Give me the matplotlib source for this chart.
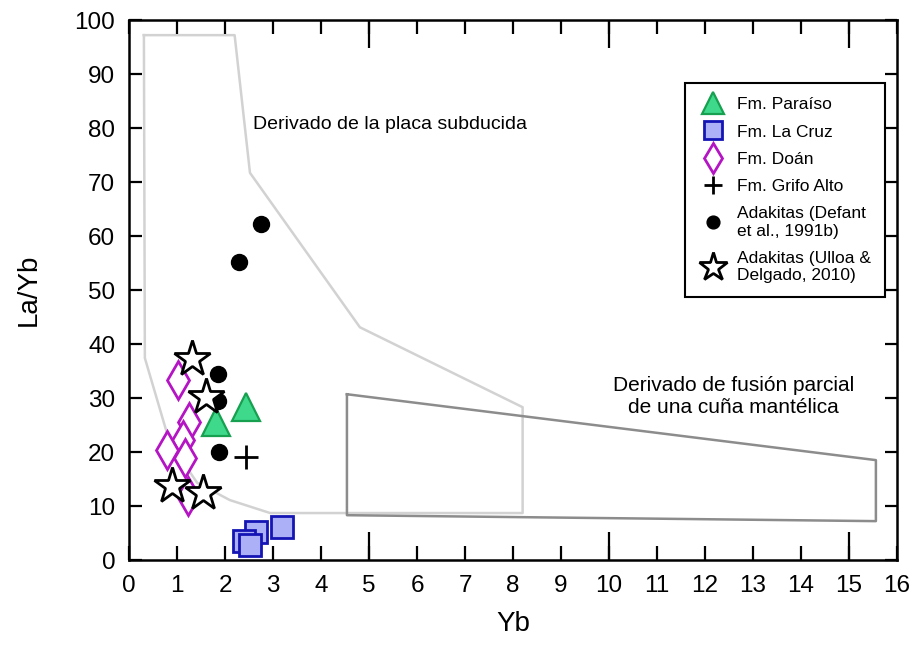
import matplotlib
matplotlib.use("Agg")
import matplotlib.pyplot as plt
from matplotlib.ticker import FixedLocator, MultipleLocator

plt.rcParams['font.family'] = ['Liberation Sans', 'DejaVu Sans']

# Field polygons
subd_x = [0.31, 2.2, 2.52, 4.81, 8.2, 8.2, 2.94, 2.1, 1.42, 0.85, 0.33, 0.31]
subd_y = [97.2, 97.2, 71.7, 43.1, 28.3, 8.7, 8.7, 11.1, 14.3, 21.7, 37.4, 97.2]
mantle_x = [4.54, 4.54, 15.56, 15.56, 4.54]
mantle_y = [30.7, 8.3, 7.2, 18.5, 30.7]

# Data series
paraiso_x = [2.44, 1.81]
paraiso_y = [28.3, 25.5]
lacruz_x = [3.18, 2.65, 2.40, 2.52]
lacruz_y = [6.1, 5.2, 3.5, 2.8]
doan_x = [1.02, 1.25, 1.13, 0.79, 1.17, 1.23]
doan_y = [33.3, 25.6, 22.2, 20.4, 18.9, 11.8]
grifo_x = [2.44]
grifo_y = [19.1]
defant_x = [2.75, 2.29, 1.85, 1.85, 1.88]
defant_y = [62.2, 55.2, 34.4, 29.4, 20.0]
ulloa_x = [1.31, 1.60, 0.90, 1.54]
ulloa_y = [37.3, 30.2, 13.7, 12.4]

labels = ["Fm. Paraíso", "Fm. La Cruz", "Fm. Doán", "Fm. Grifo Alto",
          "Adakitas (Defant\net al., 1991b)", "Adakitas (Ulloa &\nDelgado, 2010)"]

fig = plt.figure(figsize=(9.17, 6.46), dpi=100)
ax = fig.add_axes([0.1407, 0.1331, 0.8375, 0.8359])

ax.plot(subd_x, subd_y, color='#d2d2d2', lw=1.8, zorder=1)
ax.plot(mantle_x, mantle_y, color='#8c8c8c', lw=1.8, zorder=1)

ax.plot(paraiso_x, paraiso_y, ls='none', marker='^', ms=20, mfc='#3fd98c',
        mec='#16a050', mew=1.6, label=labels[0], zorder=3)
ax.plot(lacruz_x, lacruz_y, ls='none', marker='s', ms=16, mfc='#acb0f6',
        mec='#1515b5', mew=2.0, label=labels[1], zorder=3)
ax.plot(doan_x, doan_y, ls='none', marker='d', ms=19, mfc='white',
        mec='#b414c3', mew=2.0, label=labels[2], zorder=3)
ax.plot(grifo_x, grifo_y, ls='none', marker='+', ms=17, mec='black',
        mew=2.0, label=labels[3], zorder=3)
ax.plot(defant_x, defant_y, ls='none', marker='o', ms=11.5, mfc='black',
        mec='black', label=labels[4], zorder=3)
ax.plot(ulloa_x, ulloa_y, ls='none', marker='*', ms=27, mfc='white',
        mec='black', mew=2.0, label=labels[5], zorder=4)

ax.text(2.58, 80.6, "Derivado de la placa subducida", fontsize=14,
        ha='left', va='center')
ax.text(12.6, 30.3, "Derivado de fusión parcial\nde una cuña mantélica",
        fontsize=15, ha='center', va='center', multialignment='center')

ax.set_xlim(0, 16)
ax.set_ylim(0, 100)
ax.xaxis.set_major_locator(MultipleLocator(1))
ax.xaxis.set_minor_locator(FixedLocator([5, 10, 15]))
ax.xaxis.remove_overlapping_locs = False
ax.yaxis.set_major_locator(MultipleLocator(10))

ax.tick_params(axis='x', which='major', direction='in', length=10, width=1.6,
               top=True, labelsize=17.5, pad=11)
ax.tick_params(axis='x', which='minor', direction='in', length=20, width=1.6,
               top=True)
ax.tick_params(axis='y', which='major', direction='in', length=9, width=1.6,
               right=True, labelsize=17.5, pad=10)
for sp in ax.spines.values():
    sp.set_linewidth(1.8)

ax.set_xlabel("Yb", fontsize=20)
ax.set_ylabel("La/Yb", fontsize=20)
ax.xaxis.set_label_coords(0.5, -0.095)
ax.yaxis.set_label_coords(-0.114, 0.5)

leg = ax.legend(loc='upper left', bbox_to_anchor=(0.724, 0.883),
                borderaxespad=0, fontsize=12.5, frameon=True, fancybox=False,
                edgecolor='black', framealpha=1, markerscale=0.8,
                handlelength=1.6, handletextpad=0.6, borderpad=0.8,
                labelspacing=0.7, numpoints=1)
leg.get_frame().set_linewidth(1.5)

fig.savefig("out.png", dpi=100)
